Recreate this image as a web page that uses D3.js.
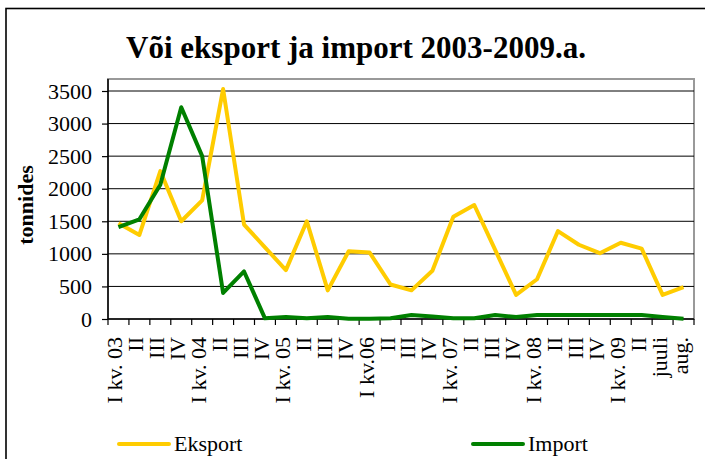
<!DOCTYPE html>
<html>
<head>
<meta charset="utf-8">
<script src="https://cdn.jsdelivr.net/npm/d3@7"></script>
<style>
  html,body{margin:0;padding:0;background:#fff;}
  svg text{font-family:"Liberation Serif","Times New Roman",serif;}
</style>
</head>
<body>
<svg id="chart" width="705" height="459"></svg>
<script>
const width = 705;
const height = 459;

// andmed (tonnides)
const categories = ["I kv. 03","II","III","IV","I kv. 04","II","III","IV","I kv. 05","II","III","IV",
  "I kv.06","II","III","IV","I kv. 07","II","III","IV","I kv. 08","II","III","IV","I kv. 09","II","juuli","aug."];
const eksport = [1470,1290,2270,1500,1820,3530,1450,1100,750,1500,440,1040,1020,530,440,740,1570,1750,1060,370,610,1350,1140,1010,1170,1080,370,490];
const importValues = [1410,1530,2060,3250,2500,400,730,10,30,10,30,5,5,10,60,40,10,10,60,30,60,60,60,60,60,60,30,5];
const yTicks = [0,500,1000,1500,2000,2500,3000,3500];

const plot = {left:108, right:694, top:79, bottom:319};

const svg = d3.select('#chart');

// välimine raam
svg.append('rect')
  .attr('x',6).attr('y',8.5)
  .attr('width',width+10).attr('height',height+10)
  .attr('fill','#fff').attr('stroke','#000').attr('stroke-width',1.6);

svg.append('text')
  .attr('x',356).attr('y',58)
  .attr('text-anchor','middle')
  .attr('font-size',31).attr('font-weight','bold')
  .text('Või eksport ja import 2003-2009.a.');

const x = d3.scaleBand().domain(d3.range(categories.length)).range([plot.left,plot.right]);
const y = d3.scaleLinear().domain([0,3500]).range([plot.bottom,91]);

// joonise ala raam (hall)
svg.append('rect')
  .attr('x',plot.left).attr('y',plot.top)
  .attr('width',plot.right-plot.left).attr('height',plot.bottom-plot.top)
  .attr('fill','none').attr('stroke','#999').attr('stroke-width',2);

// ruudustik
svg.append('g').selectAll('line').data(yTicks.filter(d=>d>0)).enter().append('line')
  .attr('x1',plot.left).attr('x2',plot.right)
  .attr('y1',d=>y(d)).attr('y2',d=>y(d))
  .attr('stroke','#000').attr('stroke-width',1);

// y telg
const yAxis = svg.append('g')
  .attr('transform',`translate(${plot.left},0)`)
  .call(d3.axisLeft(y).tickValues(yTicks).tickFormat(d3.format('d')).tickSize(6).tickPadding(10).tickSizeOuter(0));
yAxis.attr('font-family',null).attr('font-size',null);
yAxis.select('.domain').attr('stroke','#000').attr('stroke-width',1.5).attr('d',`M0,${plot.top}V${plot.bottom}`);
yAxis.selectAll('.tick line').attr('stroke','#000').attr('stroke-width',1.2);
yAxis.selectAll('.tick text').attr('font-size',22).attr('fill','#000');

svg.append('text')
  .attr('transform','translate(33,205) rotate(-90)')
  .attr('text-anchor','middle')
  .attr('font-size',22).attr('font-weight','bold')
  .text('tonnides');

// x telg: tikid kategooriate piiridel
const xg = svg.append('g');
xg.append('line')
  .attr('x1',plot.left).attr('x2',plot.right)
  .attr('y1',plot.bottom).attr('y2',plot.bottom)
  .attr('stroke','#000').attr('stroke-width',1.5);
xg.selectAll('line.tk').data(d3.range(categories.length+1)).enter().append('line')
  .attr('class','tk')
  .attr('x1',i=>plot.left+i*x.step()).attr('x2',i=>plot.left+i*x.step())
  .attr('y1',plot.bottom).attr('y2',plot.bottom+6)
  .attr('stroke','#000').attr('stroke-width',1.2);
xg.selectAll('text').data(categories).enter().append('text')
  .attr('transform',(d,i)=>`translate(${x(i)+x.bandwidth()/2+4},337) rotate(-90)`)
  .attr('text-anchor','end')
  .attr('font-size',22)
  .text(d=>d);

const line = d3.line()
  .x((d,i)=>x(i)+x.bandwidth()/2)
  .y(d=>y(d));

svg.append('path').datum(eksport)
  .attr('d',line).attr('fill','none')
  .attr('stroke','#ffcc00').attr('stroke-width',4).attr('stroke-linejoin','round');
svg.append('path').datum(importValues)
  .attr('d',line).attr('fill','none')
  .attr('stroke','#008000').attr('stroke-width',4).attr('stroke-linejoin','round');

// legend
const legend = [
  {name:'Eksport', color:'#ffcc00', x:119},
  {name:'Import', color:'#008000', x:473}
];
const lg = svg.append('g').selectAll('g').data(legend).enter().append('g');
lg.append('line')
  .attr('x1',d=>d.x).attr('x2',d=>d.x+50)
  .attr('y1',444).attr('y2',444)
  .attr('stroke',d=>d.color).attr('stroke-width',4).attr('stroke-linecap','round');
lg.append('text')
  .attr('x',d=>d.x+55).attr('y',451)
  .attr('font-size',22)
  .text(d=>d.name);
</script>
</body>
</html>
